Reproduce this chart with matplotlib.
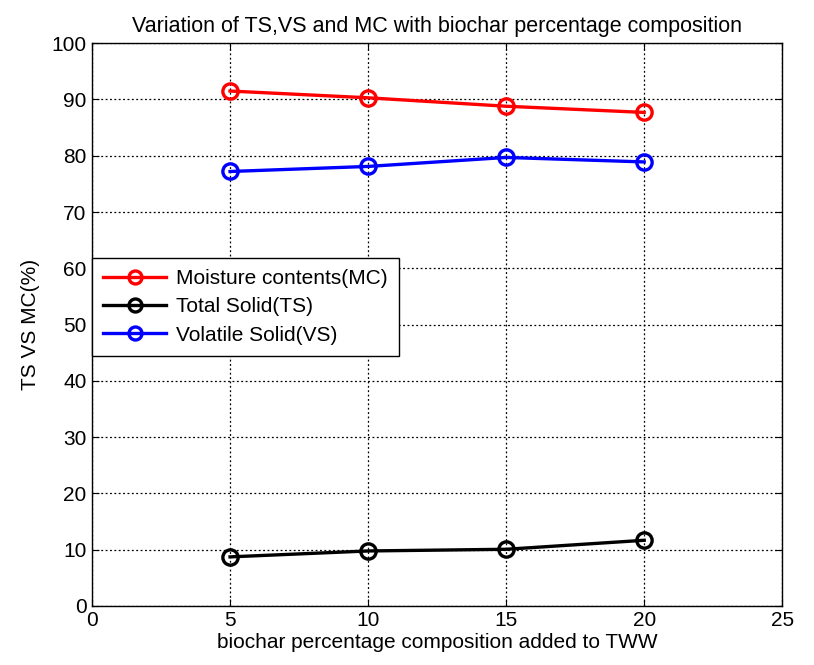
import matplotlib
matplotlib.use("Agg")
import matplotlib.pyplot as plt

plt.rcParams["font.family"] = ["Liberation Sans", "DejaVu Sans"]

biochar = [5, 10, 15, 20]
mc = [91.5, 90.3, 88.8, 87.7]
ts = [8.7, 9.75, 10.05, 11.65]
vs = [77.2, 78.1, 79.7, 78.9]

fig = plt.figure(figsize=(8.14, 6.65), dpi=100)
ax = fig.add_axes([0.113, 0.089, 0.848, 0.846])

style = dict(marker="o", markersize=11, markerfacecolor="none",
             markeredgewidth=2.4, linewidth=2.4)
ax.plot(biochar, mc, color="#ff0000", label="Moisture contents(MC)", **style)
ax.plot(biochar, ts, color="black", label="Total Solid(TS)", **style)
ax.plot(biochar, vs, color="#0000ff", label="Volatile Solid(VS)", **style)

ax.set_xlim(0, 25)
ax.set_ylim(0, 100)
ax.set_xticks(range(0, 26, 5))
ax.set_yticks(range(0, 101, 10))
ax.grid(True, color="black", linestyle=(0, (1.5, 2)), linewidth=0.9)
ax.tick_params(direction="in", labelsize=15, length=5, top=True, right=True, pad=4)
for s in ax.spines.values():
    s.set_linewidth(1.0)

ax.set_xlabel("biochar percentage composition added to TWW", fontsize=15, labelpad=2)
ax.set_ylabel("TS VS MC(%)", fontsize=15, labelpad=8)
ax.set_title("Variation of TS,VS and MC with biochar percentage composition",
             fontsize=15.5, pad=8)

leg = ax.legend(loc="upper left", bbox_to_anchor=(0.0, 0.619), borderaxespad=0,
                fontsize=15, fancybox=False, edgecolor="black", framealpha=1,
                handlelength=3.0, handletextpad=0.5, labelspacing=0.45,
                borderpad=0.55, markerscale=0.85)
leg.get_frame().set_linewidth(1.0)

fig.savefig("out.png", dpi=100)
